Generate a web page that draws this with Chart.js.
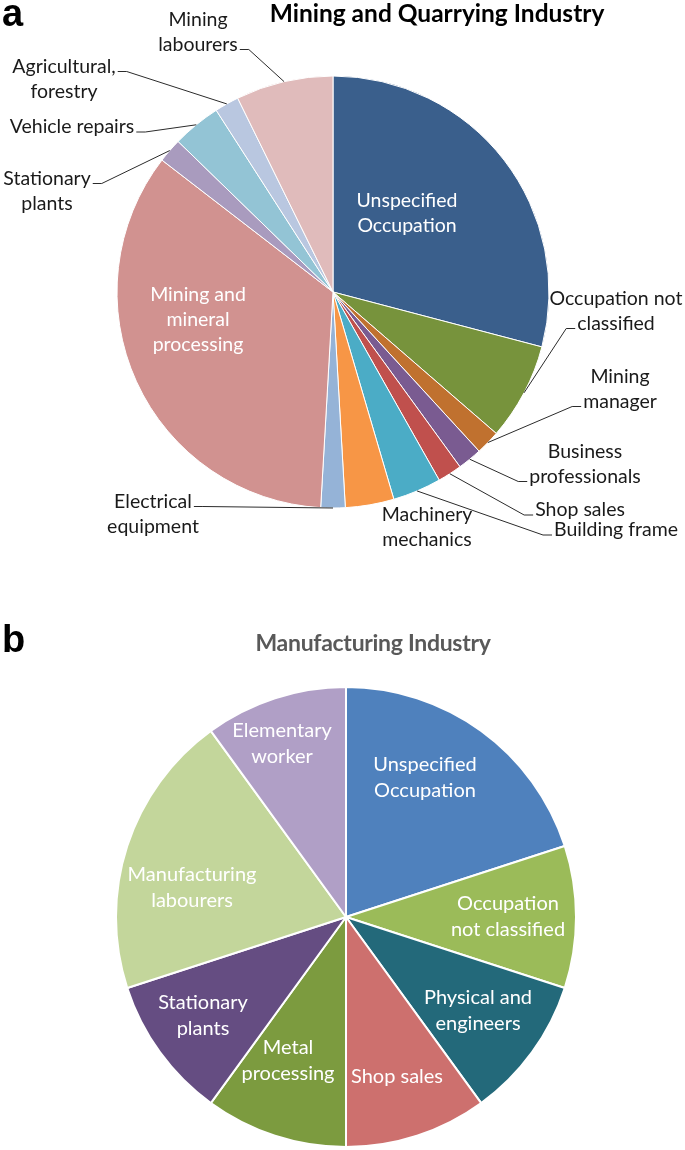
<!DOCTYPE html>
<html>
<head>
<meta charset="utf-8">
<script src="https://cdn.jsdelivr.net/npm/chart.js@4.4.0/dist/chart.umd.min.js"></script>
<style>
  body { margin: 0; background: #fff; font-family: Lato, sans-serif; }
  #page { position: relative; width: 685px; height: 1150px; overflow: hidden; }
  .box { position: absolute; left: 0; width: 685px; }
  .panel { position: absolute; font-family: "Liberation Sans", Arial, sans-serif; font-weight: bold; font-size: 38px; line-height: 1; }
  .title { position: absolute; font-weight: bold; text-align: center; white-space: nowrap; line-height: 1; }
</style>
</head>
<body>
<div id="page">
  <div class="box" style="top:0; height:560px;"><canvas id="mining"></canvas></div>
  <div class="box" style="top:600px; height:550px;"><canvas id="manufacturing"></canvas></div>
  <div class="panel" style="left:2px; top:-6px;">a</div>
  <div class="title" style="left:237px; width:400px; top:1px; font-size:24.5px; color:#000;">Mining and Quarrying Industry</div>
  <div class="panel" style="left:2px; top:620px;">b</div>
  <div class="title" style="left:173px; width:400px; top:631px; font-size:23px; color:#595959; letter-spacing:-0.3px;">Manufacturing Industry</div>
</div>
<script>
// panel a - mining and quarrying
const miningCategories = [
  'Unspecified\nOccupation', 'Occupation not\nclassified', 'Mining\nmanager',
  'Business\nprofessionals', 'Shop sales', 'Building frame', 'Machinery\nmechanics',
  'Electrical\nequipment', 'Mining and\nmineral\nprocessing', 'Stationary\nplants',
  'Vehicle repairs', 'Agricultural,\nforestry', 'Mining\nlabourers'
];
const miningValues = [16, 4, 1, 1, 1, 2, 2, 1, 19, 1, 2, 1, 4];
const miningColors = [
  '#3A5F8C', '#77933C', '#C0712F', '#7A5B91', '#C0504D', '#4BACC6', '#F79646',
  '#95B3D7', '#D19290', '#A99BBE', '#93C4D5', '#B9C7E0', '#E0BBBB'
];

// panel b - manufacturing
const manufacturingCategories = [
  'Unspecified\nOccupation', 'Occupation\nnot classified', 'Physical and\nengineers',
  'Shop sales', 'Metal\nprocessing', 'Stationary\nplants', 'Manufacturing\nlabourers',
  'Elementary\nworker'
];
const manufacturingValues = [20, 10, 10, 10, 10, 10, 20, 10];
const manufacturingColors = [
  '#4F81BD', '#9BBB59', '#23697A', '#CD706E', '#7C9B3F', '#654D82', '#C3D69B', '#B09FC6'
];

// label spots, offsets from the pie centre; leader = line index the leader starts from
const miningLabelSpots = [
  {dx: 74, dy: -79, color: '#fff'},
  {dx: 283, dy: 19, leader: 1},
  {dx: 287, dy: 97, leader: 1},
  {dx: 252, dy: 172, leader: 1},
  {dx: 247, dy: 218, leader: 0},
  {dx: 283, dy: 238, leader: 0},
  {dx: 94, dy: 235},
  {dx: -180, dy: 222, leader: 0},
  {dx: -135, dy: 28, color: '#fff'},
  {dx: -286, dy: -101, leader: 0},
  {dx: -261, dy: -165, leader: 0},
  {dx: -269, dy: -213, leader: 0},
  {dx: -135, dy: -260, leader: 1}
];
const manufacturingLabelSpots = [
  {dx: 79, dy: -139}, {dx: 162, dy: 0}, {dx: 132, dy: 94}, {dx: 51, dy: 160},
  {dx: -58, dy: 144}, {dx: -143, dy: 99}, {dx: -154, dy: -29}, {dx: -64, dy: -173}
];

const sliceLabels = {
  id: 'sliceLabels',
  afterDatasetsDraw(chart, args, opts) {
    const ctx = chart.ctx;
    const arcs = chart.getDatasetMeta(0).data;
    const labels = chart.data.labels;
    ctx.save();
    ctx.font = opts.font;
    ctx.textAlign = 'center';
    ctx.textBaseline = 'middle';
    ctx.strokeStyle = '#2b2b2b';
    ctx.lineWidth = 1;
    arcs.forEach((arc, i) => {
      const spot = opts.spots[i];
      const lines = labels[i].split('\n');
      const cx = arc.x + spot.dx, cy = arc.y + spot.dy;
      const top = cy - (lines.length - 1) * opts.lineHeight / 2;
      ctx.fillStyle = spot.color || opts.color;
      lines.forEach((t, k) => ctx.fillText(t, cx, top + k * opts.lineHeight));
      if (spot.leader !== undefined) {
        const k = spot.leader;
        const w = ctx.measureText(lines[k]).width;
        const mid = (arc.startAngle + arc.endAngle) / 2;
        const px = arc.x + Math.cos(mid) * arc.outerRadius;
        const py = arc.y + Math.sin(mid) * arc.outerRadius;
        const side = px < cx ? -1 : 1;
        const sx = cx + side * (w / 2 + 2);
        const sy = top + k * opts.lineHeight + 5;
        ctx.beginPath();
        ctx.moveTo(sx, sy);
        ctx.lineTo(sx + side * 9, sy);
        ctx.lineTo(px, py);
        ctx.stroke();
      }
    });
    ctx.restore();
  }
};

function pie(id, labels, values, colors, border, padding, labelOpts) {
  return new Chart(document.getElementById(id), {
    type: 'pie',
    data: {
      labels: labels,
      datasets: [{
        data: values,
        backgroundColor: colors,
        borderColor: '#fff',
        borderWidth: border
      }]
    },
    options: {
      responsive: true,
      maintainAspectRatio: false,
      animation: false,
      layout: { padding: padding },
      plugins: {
        legend: { display: false },
        tooltip: { enabled: false },
        sliceLabels: labelOpts
      }
    },
    plugins: [sliceLabels]
  });
}

pie('mining', miningCategories, miningValues, miningColors, 1,
  {left: 116.5, right: 135.5, top: 75.5, bottom: 51.5},
  {spots: miningLabelSpots, font: '19.5px Lato', color: '#1a1a1a', lineHeight: 25});

pie('manufacturing', manufacturingCategories, manufacturingValues, manufacturingColors, 2,
  {left: 115, right: 108, top: 86, bottom: 2},
  {spots: manufacturingLabelSpots, font: '20px Lato', color: '#fff', lineHeight: 26});
</script>
</body>
</html>
